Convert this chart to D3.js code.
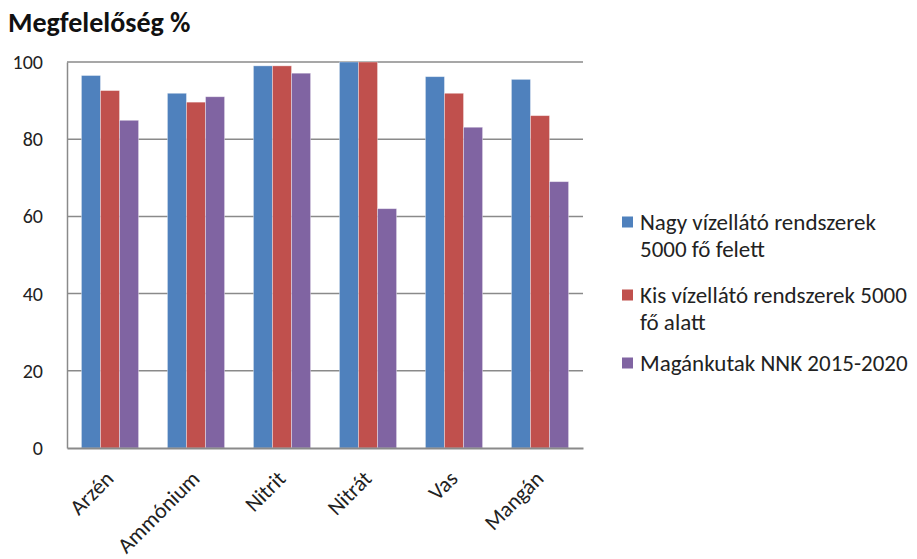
<!DOCTYPE html>
<html>
<head>
<meta charset="utf-8">
<script src="https://cdn.jsdelivr.net/npm/d3@7"></script>
<style>
  body { margin: 0; background: #fff; }
  svg { display: block; }
  svg text { font-family: Calibri, Carlito, Lato, "Open Sans", sans-serif; }
</style>
</head>
<body>
<svg id="chart" width="917" height="559"></svg>
<script>
// Compliance rate (%) by parameter for three water-supply groups
const categories = ["Arzén", "Ammónium", "Nitrit", "Nitrát", "Vas", "Mangán"];
const seriesNames = [
  ["Nagy vízellátó rendszerek", "5000 fő felett"],
  ["Kis vízellátó rendszerek 5000", "fő alatt"],
  ["Magánkutak NNK 2015-2020"]
];
const largeSystems = [96.5, 91.9, 99.0, 100, 96.2, 95.5];
const smallSystems = [92.6, 89.6, 99.0, 100, 91.9, 86.1];
const privateWells = [84.9, 91.0, 97.1, 62.0, 83.1, 69.0];
const yTicks = [0, 20, 40, 60, 80, 100];
const colors = ["#4F81BD", "#C0504D", "#8064A2"];
const series = [largeSystems, smallSystems, privateWells];

const svg = d3.select("#chart");
const margin = { left: 67, top: 62, right: 583, bottom: 448 };

const x = d3.scaleBand().domain(categories).range([margin.left, margin.right]).paddingInner(0.335).paddingOuter(0.1675);
const xs = d3.scaleBand().domain(d3.range(series.length)).range([0, x.bandwidth()]);
const y = d3.scaleLinear().domain([0, 100]).range([margin.bottom, margin.top]);

// horizontal gridlines
svg.append("g")
  .selectAll("line")
  .data(yTicks.filter(d => d > 0))
  .join("line")
  .attr("x1", margin.left).attr("x2", margin.right)
  .attr("y1", d => y(d)).attr("y2", d => y(d))
  .attr("stroke", "#8a8a8a").attr("stroke-width", 1.5);

// bars
const groups = svg.append("g")
  .selectAll("g")
  .data(categories)
  .join("g")
  .attr("transform", d => `translate(${x(d)},0)`);

groups.selectAll("rect")
  .data((c, i) => series.map((s, k) => ({ k, v: s[i] })))
  .join("rect")
  .attr("x", d => xs(d.k))
  .attr("width", xs.bandwidth())
  .attr("y", d => y(d.v))
  .attr("height", d => y(0) - y(d.v))
  .attr("fill", d => colors[d.k])
  .attr("stroke", "rgba(255,255,255,0.45)")
  .attr("stroke-width", 0.8);

// y axis
const yAxis = d3.axisLeft(y).tickValues(yTicks).tickSize(0).tickPadding(24);
const ya = svg.append("g").attr("transform", `translate(${margin.left},0)`).call(yAxis);
ya.attr("font-family", null).attr("font-size", 20);
ya.select(".domain").attr("stroke", "#8a8a8a").attr("stroke-width", 1.5);
ya.selectAll("text").attr("fill", "#222");

// x axis
const xAxis = d3.axisBottom(x).tickSize(0).tickPadding(0);
const xa = svg.append("g").attr("transform", `translate(0,${margin.bottom})`).call(xAxis);
xa.attr("font-family", null).attr("font-size", 22);
xa.select(".domain").attr("stroke", "#8a8a8a").attr("stroke-width", 2);
xa.selectAll("text")
  .attr("fill", "#222")
  .attr("text-anchor", "end")
  .attr("dy", 0)
  .attr("transform", "translate(5,32) rotate(-45)");

// title
svg.append("text")
  .attr("x", 8).attr("y", 32)
  .attr("font-size", 28).attr("font-weight", "bold").attr("fill", "#111")
  .text("Megfelelőség %");

// legend
const legendY = [222, 295, 363];
const legend = svg.append("g");
seriesNames.forEach((lines, i) => {
  legend.append("rect")
    .attr("x", 622).attr("y", legendY[i] - 5.5)
    .attr("width", 11).attr("height", 11)
    .attr("fill", colors[i]);
  lines.forEach((t, j) => {
    legend.append("text")
      .attr("x", 640).attr("y", legendY[i] + j * 27)
      .attr("dy", "0.35em")
      .attr("font-size", 23).attr("fill", "#222")
      .text(t);
  });
});
</script>
</body>
</html>
